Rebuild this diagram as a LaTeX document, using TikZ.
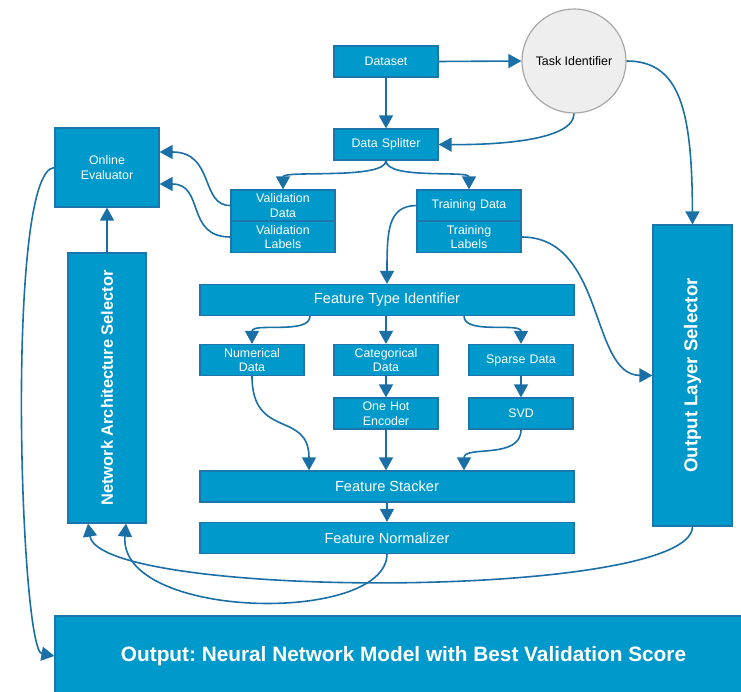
\documentclass[tikz,border=0pt]{standalone}
\usepackage{fontspec}
\setmainfont{Liberation Sans}
\usetikzlibrary{arrows.meta}
\definecolor{boxfill}{HTML}{0099CC}
\definecolor{boxline}{HTML}{1A76AB}
\definecolor{wire}{HTML}{1A6FA6}
\definecolor{circfill}{HTML}{EEEEEE}
\definecolor{circline}{HTML}{A8A8A8}
\frenchspacing
\tikzset{
  box/.style={draw=boxline, line width=1.2pt, fill=boxfill, text=white,
    inner sep=1pt, align=center, font=\fontsize{12.4}{14.5}\selectfont},
  small/.style={box, minimum width=104pt, minimum height=31pt, text width=102pt},
  wide/.style={box, minimum width=374pt, minimum height=31pt, font=\fontsize{14.6}{16}\selectfont},
  tall/.style={box},
  conn/.style={draw=wire, line width=1.6pt, -{Triangle[width=14pt,length=13pt]}}
}
\begin{document}
\begin{tikzpicture}[x=1pt,y=-1pt]
\useasboundingbox (0,0) rectangle (741,692);
\begin{scope}
\clip (0,0) rectangle (741,692);

% top row
\node[small] (dataset) at (386,61.5) {Dataset};
\node[circle, draw=circline, line width=1.2pt, fill=circfill, minimum size=104pt,
      inner sep=0pt, font=\fontsize{12.4}{14.5}\selectfont] (task) at (574,61) {Task Identifier};
\node[small] (split) at (386,144.5) {Data Splitter};

% evaluator and data groups
\node[box, minimum width=104pt, minimum height=79pt, text width=100pt] (eval) at (107,167.5) {Online\\Evaluator};
\node[small] (vdata) at (283,205.5) {Validation\\Data};
\node[small] (vlab) at (283,237) {Validation\\Labels};
\node[small] (tdata) at (469,205.5) {Training Data};
\node[small] (tlab) at (469,237) {Training\\Labels};

% selectors
\node[tall, minimum width=79pt, minimum height=301pt] (outsel) at (692.5,375.5) {};
\node[rotate=90, text=white, font=\bfseries\fontsize{18.6}{20}\selectfont] at (outsel.center) {Output Layer Selector};
\node[tall, minimum width=78pt, minimum height=270pt] (netsel) at (107,388) {};
\node[rotate=90, text=white, font=\bfseries\fontsize{16.4}{18}\selectfont] at (netsel.center) {Network Architecture Selector};

% feature pipeline
\node[wide] (fti) at (387,300) {Feature Type Identifier};
\node[small] (num) at (252,360) {Numerical\\Data};
\node[small] (cat) at (386,360) {Categorical\\Data};
\node[small] (sparse) at (521,360) {Sparse Data};
\node[small] (ohe) at (386,413.5) {One Hot\\Encoder};
\node[small] (svd) at (521,413.5) {SVD};
\node[wide] (stack) at (387,486.5) {Feature Stacker};
\node[wide] (norm) at (387,538) {Feature Normalizer};

% final output
\node[box, minimum width=697pt, minimum height=80pt, font=\bfseries\fontsize{20.8}{23}\selectfont] (out) at (403.5,656) {Output: Neural Network Model with Best Validation Score};

% connectors
\draw[conn] (dataset.east) -- (task.west);
\draw[conn] (dataset.south) -- (split.north);
\draw[conn] (task.south) .. controls (574,140) and (500,145) .. (split.east);
\draw[conn] (task.east) .. controls (680,61) and (692,110) .. (outsel.north);
\draw[conn] (split.south) .. controls (386,180) and (283,170) .. (vdata.north);
\draw[conn] (split.south) .. controls (386,180) and (469,170) .. (tdata.north);
\draw[conn] (vdata.west) .. controls (200,206) and (215,152) .. ([yshift=15.5pt]eval.east);
\draw[conn] (vlab.west) .. controls (185,237) and (205,184) .. ([yshift=-16.5pt]eval.east);
\draw[conn] (netsel.north) -- (eval.south);
\draw[conn] (tdata.west) .. controls (388,206) and (387,230) .. (fti.north);
\draw[conn] (tlab.east) .. controls (605,237) and (590,375) .. (outsel.west);

\draw[conn] ([xshift=-77pt]fti.south) .. controls (310,335) and (252,322) .. (num.north);
\draw[conn] (fti.south -| cat.north) -- (cat.north);
\draw[conn] ([xshift=77pt]fti.south) .. controls (464,335) and (521,322) .. (sparse.north);
\draw[conn] (cat.south) -- (ohe.north);
\draw[conn] (sparse.south) -- (svd.north);

\draw[conn] (num.south) .. controls (252,440) and (309,410) .. ([xshift=-78pt]stack.north);
\draw[conn] (ohe.south) -- (ohe.south |- stack.north);
\draw[conn] (svd.south) .. controls (521,460) and (464,445) .. ([xshift=77pt]stack.north);
\draw[conn] (stack.south) -- (norm.north);

\draw[conn] (norm.south) .. controls (386,625) and (118,620) .. ([xshift=19pt]netsel.south);
\draw[conn] (outsel.south) .. controls (692,600) and (100,600) .. ([xshift=-19pt]netsel.south);
\draw[conn] (eval.west) .. controls (5,170) and (20,650) .. (out.west);
\end{scope}
\end{tikzpicture}
\end{document}
